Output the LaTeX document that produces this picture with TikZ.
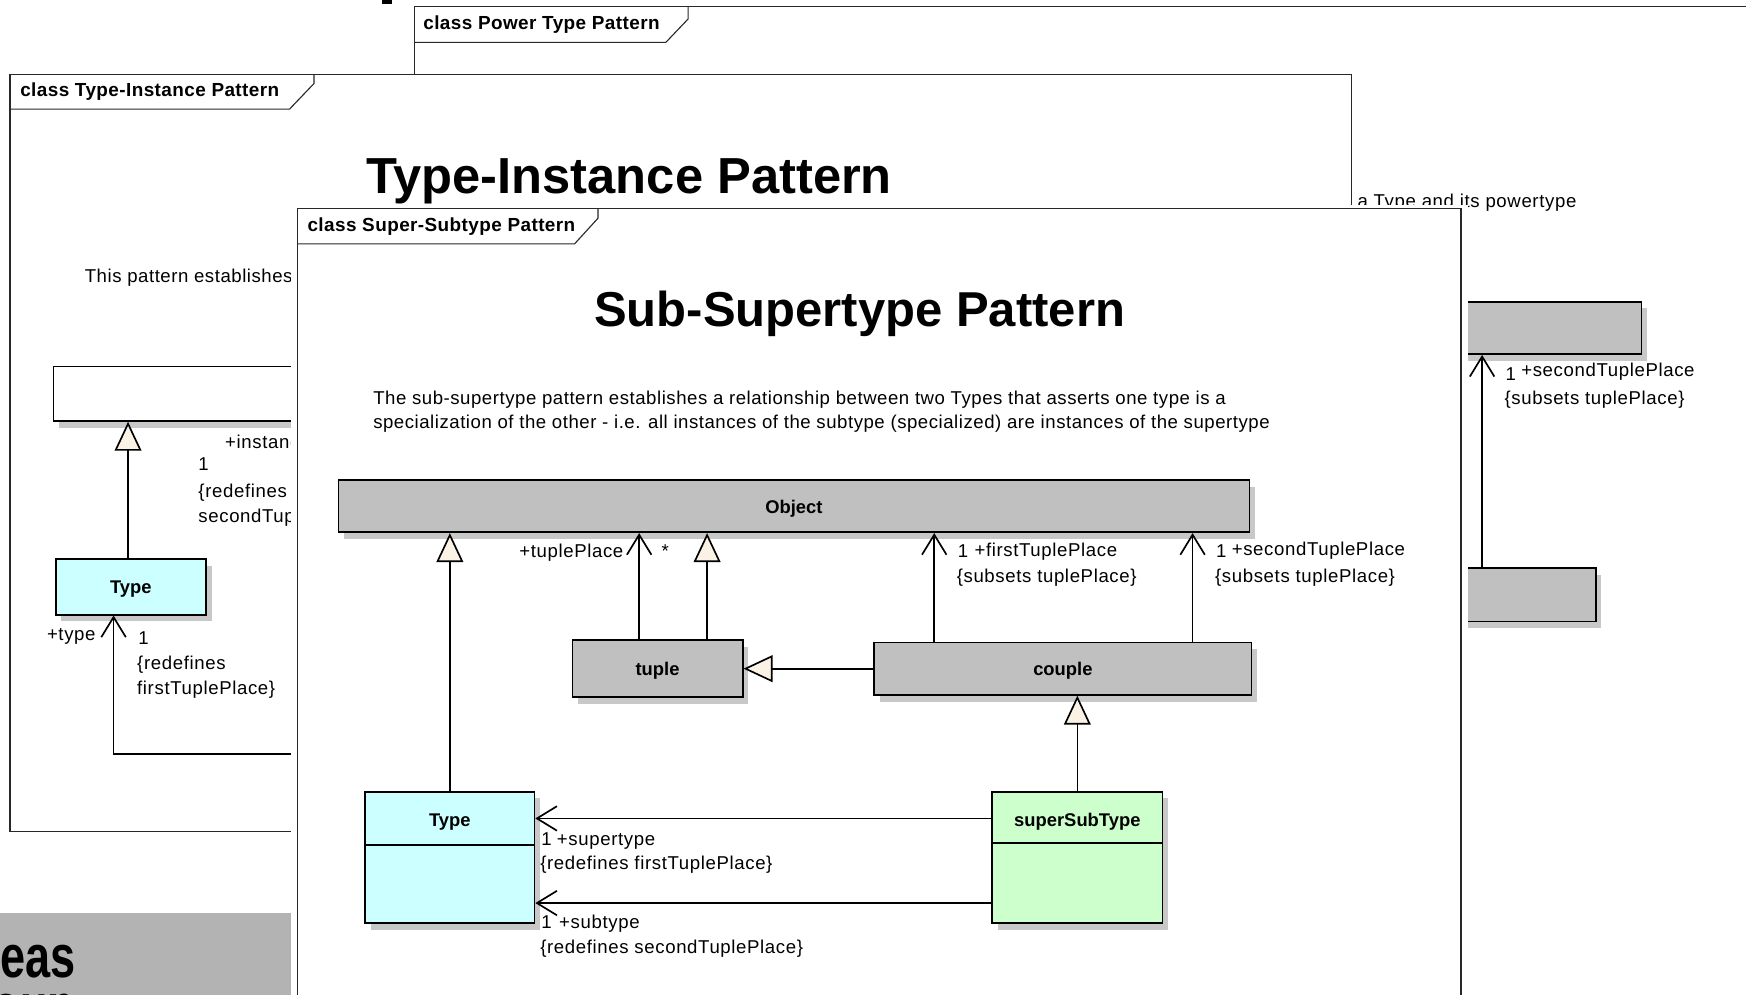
\documentclass[tikz,border=0pt]{standalone}
\usepackage{fontspec}
\setmainfont{Liberation Sans}
\newfontfamily\lblfam[LetterSpace=3.4]{Liberation Sans}
\newfontfamily\bodyfam[LetterSpace=2.9]{Liberation Sans}
\newfontfamily\tabfam[LetterSpace=2.2]{Liberation Sans}
\usetikzlibrary{arrows.meta,calc}
\definecolor{clsgray}{RGB}{192,192,192}
\definecolor{shadowgray}{RGB}{200,200,200}
\definecolor{cyanfill}{RGB}{204,255,255}
\definecolor{greenfill}{RGB}{204,255,204}
\definecolor{trifill}{RGB}{250,242,228}
\definecolor{logogray}{RGB}{179,179,179}
\definecolor{framecol}{RGB}{40,40,40}
\newcommand\fLbl{\lblfam\fontsize{16.7}{20}\selectfont}
\newcommand\fBody{\bodyfam\fontsize{16.7}{22}\selectfont}
\newcommand\fCls{\fontsize{16.5}{20}\selectfont\bfseries}
\newcommand\fTab{\tabfam\fontsize{17}{20}\selectfont\bfseries}
\newcommand\fTtl{\fontsize{44}{50}\selectfont\bfseries}
\newcommand\fLogo{\fontsize{54}{60}\selectfont\bfseries}
\tikzset{
  shd/.style={preaction={fill=shadowgray,transform canvas={shift={(5pt,-6pt)}}}},
  cls/.style={draw=black,line width=1.5pt,inner sep=0pt,shd,font=\fCls,text height=14pt,text depth=1.5pt},
  frame/.style={draw=framecol,line width=1pt},
  tabtext/.style={font=\fTab,anchor=base west,inner sep=0pt},
  lbl/.style={font=\fLbl,anchor=base west,inner sep=0pt},
  lble/.style={font=\fLbl,anchor=base east,inner sep=0pt},
  ttl/.style={font=\fTtl,anchor=base,inner sep=0pt},
  body/.style={font=\fBody,anchor=base west,inner sep=0pt},
  gen/.style={line width=1.5pt,-{Triangle[length=26pt,width=24pt,fill=trifill,line width=1.5pt]}},
  assoc/.style={line width=1.5pt,-{Straight Barb[length=18pt,width=22pt,line width=1.5pt]}},
  line/.style={line width=1.5pt}
}
\begin{document}
\begin{tikzpicture}[x=1pt,y=-1pt]
\useasboundingbox (0,0) rectangle (1568,893);
\clip (0,0) rectangle (1568,893);
\fill[white] (0,0) rectangle (1568,893);

% fragment of a title above
\fill[black] (343,0) rectangle (352,3.5);

% ---------------- Power Type Pattern (back) ----------------
\draw[frame] (1580,6) -- (372,6) -- (372,900);
\draw[frame] (372,38) -- (598,38) -- (618,17) -- (618,6);
\node[tabtext] (ptTab) at (380,26.5) {class Power Type Pattern};
\node[lbl] (ptText) at (1219,186) {a Type and its powertype};
\node[cls,fill=clsgray,minimum width=224pt,minimum height=47pt] (ptA) at (1362,294.5) {};
\node[cls,fill=clsgray,minimum width=183pt,minimum height=48pt] (ptB) at (1341.5,534) {};
\coordinate (pb1) at ([xshift=-10.5pt]ptB.north);
\draw[assoc] (pb1) -- (pb1 |- ptA.south);
\node[lbl] (ptOne) at (1352,342) {1};
\node[lbl] (ptRole) at (1366,338.5) {+secondTuplePlace};
\node[lbl] (ptSub) at (1351,363.5) {\{subsets tuplePlace\}};

% logo at bottom left
\fill[logogray] (0,820) rectangle (270,900);
\node[font=\fLogo,anchor=base east,inner sep=0pt] (logoA) at (68,878) {\scalebox{0.75}[1]{ideas}};
\node[font=\fLogo,anchor=base east,inner sep=0pt] (logoB) at (68,922) {\scalebox{0.75}[1]{group}};

% ---------------- Type-Instance Pattern (middle) ----------------
\draw[frame,fill=white] (9,67) rectangle (1214,747);
\draw[frame] (9,98) -- (260,98) -- (282,75) -- (282,67);
\node[tabtext] (tiTab) at (18,86.5) {class Type-Instance Pattern};
\node[ttl,font=\fontsize{45.5}{50}\selectfont\bfseries] (tiTitle) at (565,174) {Type-Instance Pattern};
\node[body] (tiText) at (76,254) {This pattern establishes a};
\node[cls,fill=white,minimum width=252pt,minimum height=49pt] (tiInst) at (174,353.5) {};
\node[cls,fill=cyanfill,minimum width=135pt,minimum height=50pt] (tiType) at (117.5,527) {Type};
\coordinate (tg1) at ([xshift=-2.5pt]tiType.north);
\draw[gen] (tg1) -- (tg1 |- tiInst.south);
\coordinate (tiEnd) at (300,677);
\coordinate (ta1) at ([xshift=-15.5pt]tiType.south);
\draw[assoc] (tiEnd) -- (ta1 |- tiEnd) -- (ta1);
\node[lbl] (tiL1) at (202,402.5) {+instance};
\node[lbl] (tiL2) at (178,422.5) {1};
\node[lbl] (tiL3) at (178,446.5) {\{redefines};
\node[lbl] (tiL4) at (178,469.5) {secondTuplePlace\}};
\node[lble] (tiL5) at (86,575.5) {+type};
\node[lbl] (tiL6) at (124,578.5) {1};
\node[lbl] (tiL7) at (123,601.5) {\{redefines};
\node[lbl] (tiL8) at (123,623.5) {firstTuplePlace\}};

% ---------------- Super-Subtype Pattern (front) ----------------
\fill[white] (261,184) rectangle (1318,900);
\draw[frame] (267,900) -- (267,187) -- (1312,187) -- (1312,900);
\draw[frame] (267,219) -- (516,219) -- (537,196) -- (537,187);
\node[tabtext] (ssTab) at (276,207.5) {class Super-Subtype Pattern};
\node[ttl] (ssTitle) at (772,293) {Sub-Supertype Pattern};
\node[body] (ssText1) at (335,363) {The sub-supertype pattern establishes a relationship between two Types that asserts one type is a};
\node[body] (ssText2) at (335,385) {specialization of the other - i.e. all instances of the subtype (specialized) are instances of the supertype};

\node[cls,fill=clsgray,minimum width=818pt,minimum height=47pt] (Object) at (713,454.5) {Object};
\node[cls,fill=clsgray,minimum width=153pt,minimum height=51pt] (tuple) at (590.5,600.5) {tuple};
\node[cls,fill=clsgray,minimum width=339pt,minimum height=47pt] (couple) at (954.5,600.5) {couple};
\node[cls,fill=cyanfill,minimum width=152pt,minimum height=118pt] (Type) at (404,770) {};
\node[cls,fill=greenfill,minimum width=153pt,minimum height=118pt] (superSubType) at (967.5,770) {};
\draw[line] ([yshift=11pt]Type.west) -- ([yshift=11pt]Type.east);
\draw[line] ([yshift=13pt]superSubType.west) -- ([yshift=13pt]superSubType.east);
\node[font=\fCls,inner sep=0pt,text height=14pt,text depth=1.5pt] (TypeName) at ([yshift=34pt]Type.center) {Type};
\node[font=\fCls,inner sep=0pt,text height=14pt,text depth=1.5pt] (sstName) at ([yshift=34pt]superSubType.center) {superSubType};

% connectors
\draw[gen] (Type.north) -- (Type.north |- Object.south);
\coordinate (tu1) at ([xshift=-16.5pt]tuple.north);
\draw[assoc] (tu1) -- (tu1 |- Object.south);
\coordinate (tu2) at ([xshift=44.5pt]tuple.north);
\draw[gen] (tu2) -- (tu2 |- Object.south);
\draw[gen] (couple.west) -- (tuple.east);
\coordinate (co1) at ([xshift=-115.5pt]couple.north);
\draw[assoc] (co1) -- (co1 |- Object.south);
\coordinate (co2) at ([xshift=116.5pt]couple.north);
\draw[assoc] (co2) -- (co2 |- Object.south);
\draw[gen] (superSubType.north) -- (superSubType.north |- couple.south);
\coordinate (ss1) at ([yshift=35pt]superSubType.west);
\draw[assoc] (ss1) -- (ss1 -| Type.east);
\coordinate (ss2) at ([yshift=-41pt]superSubType.west);
\draw[assoc] (ss2) -- (ss2 -| Type.east);

% labels
\node[lble] (lTP) at (560,501) {+tuplePlace};
\node[lbl] (lStar) at (594,501) {*};
\node[lbl] (lF1) at (860,501) {1};
\node[lbl] (lF2) at (875,499.5) {+firstTuplePlace};
\node[lbl] (lF3) at (859,523.5) {\{subsets tuplePlace\}};
\node[lbl] (lS1) at (1092,501) {1};
\node[lbl] (lS2) at (1106,498.5) {+secondTuplePlace};
\node[lbl] (lS3) at (1091,523.5) {\{subsets tuplePlace\}};
\node[lbl] (lU1) at (486,759) {1};
\node[lbl] (lU2) at (500,759.5) {+supertype};
\node[lbl] (lU3) at (485,780.5) {\{redefines firstTuplePlace\}};
\node[lbl] (lB1) at (486,834) {1};
\node[lbl] (lB2) at (502,833.5) {+subtype};
\node[lbl] (lB3) at (485,856.5) {\{redefines secondTuplePlace\}};
\end{tikzpicture}
\end{document}
